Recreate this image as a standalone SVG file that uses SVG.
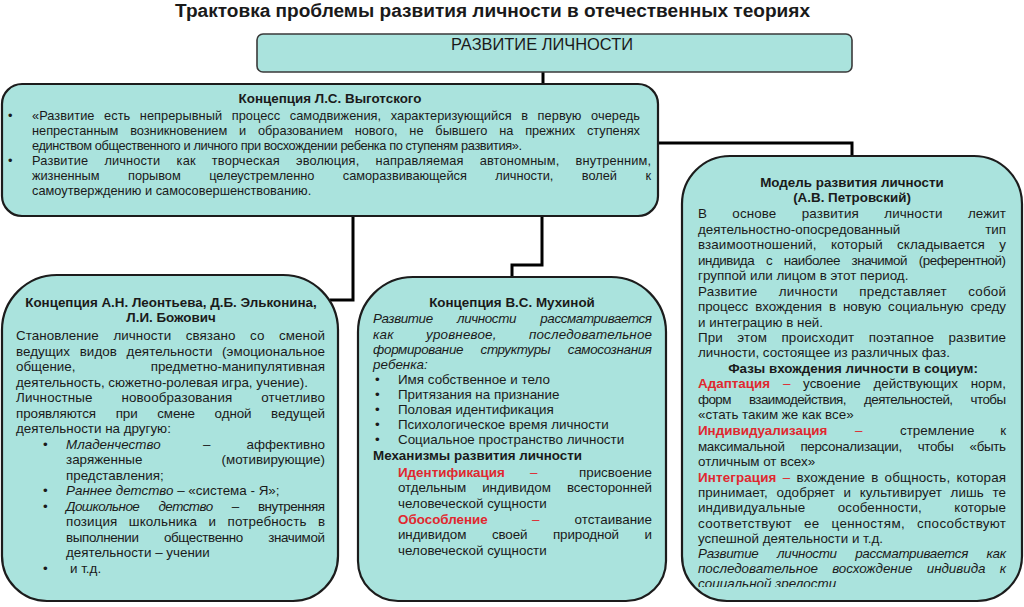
<svg xmlns="http://www.w3.org/2000/svg" width="1024" height="607" viewBox="0 0 1024 607">
<style>
.box{fill:#aae3dd;stroke:#1c1c1c;stroke-width:2.2}
.hbox{fill:#aae3dd;stroke:#3a3a3a;stroke-width:1.6}
.conn{stroke:#000;stroke-width:3;fill:none}
text{font-family:"Liberation Sans",Arial,sans-serif;fill:#1a1a1a}
.v{font-size:12.8px}
.s{font-size:13.4px}
.b{font-weight:bold}
.i{font-style:italic}
.r{fill:#e0282f;font-weight:bold}
.rd{fill:#e0282f}
.c{text-anchor:middle}
.e{text-anchor:end}
</style>
<defs>
<clipPath id="clipP"><rect x="682" y="150" width="342" height="437"/></clipPath>
</defs>
<rect width="1024" height="607" fill="#ffffff"/>
<g id="title">
<text x="175" y="17" font-size="18" font-weight="bold" textLength="635" lengthAdjust="spacingAndGlyphs">Трактовка проблемы развития личности в отечественных теориях</text>
</g>
<g id="connectors">
<path class="conn" d="M543 72 V86"/>
<path class="conn" d="M656 143 H852 V158"/>
<path class="conn" d="M353 214 V300 H330"/>
<path class="conn" d="M542 214 V265 H512 V279"/>
</g>
<g id="node-top">
<rect class="hbox" x="257" y="34" width="595" height="38" rx="6"/>
<text x="451" y="50" font-size="16" textLength="182" lengthAdjust="spacingAndGlyphs">РАЗВИТИЕ ЛИЧНОСТИ</text>
</g>
<g id="node-vygotsky">
<rect class="box" x="2" y="84" width="656" height="132" rx="20"/>
<text class="s b c" x="330" y="103" font-size="13.2">Концепция Л.С. Выготского</text>
<text class="v" x="8" y="119.5">•</text>
<text class="v" x="32" y="119.5" textLength="608" style="word-spacing:6px">«Развитие есть непрерывный процесс самодвижения, характеризующийся в первую очередь</text>
<text class="v" x="32" y="134.5" textLength="608" style="word-spacing:8.3px">непрестанным возникновением и образованием нового, не бывшего на прежних ступенях</text>
<text class="v" x="32" y="149.5" textLength="490">единством общественного и личного при восхождении ребенка по ступеням развития».</text>
<text class="v" x="8" y="164.5">•</text>
<text class="v" x="32" y="164.5" textLength="619" style="word-spacing:12.5px">Развитие личности как творческая эволюция, направляемая автономным, внутренним,</text>
<text class="v" x="32" y="179.5" textLength="619" style="word-spacing:25px">жизненным порывом целеустремленно саморазвивающейся личности, волей к</text>
<text class="v" x="32" y="194.5">самоутверждению и самосовершенствованию.</text>
</g>
<g id="node-leontiev">
<path class="box" d="M57 275 H283 A55 55 0 0 1 338 330 V556 A45 45 0 0 1 293 601 H47 A45 45 0 0 1 2 556 V330 A55 55 0 0 1 57 275 Z"/>
<text class="s b c" x="171" y="307">Концепция А.Н. Леонтьева, Д.Б. Эльконина,</text>
<text class="s b c" x="171" y="322">Л.И. Божович</text>
<text class="s" x="16" y="340" textLength="309" style="word-spacing:10.9px">Становление личности связано со сменой</text>
<text class="s" x="16" y="355.5" textLength="309" style="word-spacing:5.9px">ведущих видов деятельности (эмоциональное</text>
<text class="s" x="16" y="371">общение,</text>
<text class="s e" x="325" y="371">предметно-манипулятивная</text>
<text class="s" x="16" y="386.5">деятельность, сюжетно-ролевая игра, учение).</text>
<text class="s" x="16" y="402" textLength="309" style="word-spacing:25px">Личностные новообразования отчетливо</text>
<text class="s" x="16" y="417.5" textLength="309" style="word-spacing:16px">проявляются при смене одной ведущей</text>
<text class="s" x="16" y="433">деятельности на другую:</text>
<text class="s" x="43" y="448.5">•</text>
<text class="s i" x="66" y="448.5">Младенчество</text>
<text class="s" x="203" y="448.5">–</text>
<text class="s e" x="325" y="448.5">аффективно</text>
<text class="s" x="66" y="464">заряженные</text>
<text class="s e" x="325" y="464">(мотивирующие)</text>
<text class="s" x="66" y="479.5">представления;</text>
<text class="s" x="43" y="495">•</text>
<text class="s" x="66" y="495"><tspan class="i">Раннее детство</tspan> – «система - Я»;</text>
<text class="s" x="43" y="510.5">•</text>
<text class="s" x="66" y="510.5" textLength="259" style="word-spacing:16px"><tspan class="i">Дошкольное детство</tspan> – внутренняя</text>
<text class="s" x="66" y="526" textLength="259" style="word-spacing:7.5px">позиция школьника и потребность в</text>
<text class="s" x="66" y="541.5" textLength="259" style="word-spacing:22px">выполнении общественно значимой</text>
<text class="s" x="66" y="557">деятельности – учении</text>
<text class="s" x="43" y="572.5">•</text>
<text class="s" x="70" y="572.5">и т.д.</text>
</g>
<g id="node-mukhina">
<path class="box" d="M413 277 H611 A55 55 0 0 1 666 332 V561 A40 40 0 0 1 626 601 H398 A40 40 0 0 1 358 561 V332 A55 55 0 0 1 413 277 Z"/>
<text class="s b c" x="512" y="306.5">Концепция В.С. Мухиной</text>
<text class="s i" x="373" y="323" textLength="279" style="word-spacing:21px">Развитие личности рассматривается</text>
<text class="s i" x="373" y="338.5" textLength="279" style="word-spacing:28.5px">как уровневое, последовательное</text>
<text class="s i" x="373" y="354" textLength="279" style="word-spacing:14px">формирование структуры самосознания</text>
<text class="s i" x="373" y="369">ребенка:</text>
<text class="s" x="375" y="384">•</text>
<text class="s" x="398" y="384">Имя собственное и тело</text>
<text class="s" x="375" y="399">•</text>
<text class="s" x="398" y="399">Притязания на признание</text>
<text class="s" x="375" y="414">•</text>
<text class="s" x="398" y="414">Половая идентификация</text>
<text class="s" x="375" y="429">•</text>
<text class="s" x="398" y="429">Психологическое время личности</text>
<text class="s" x="375" y="444">•</text>
<text class="s" x="398" y="444">Социальное пространство личности</text>
<text class="s b" x="373" y="460">Механизмы развития личности</text>
<text class="s r" x="398" y="476.5">Идентификация</text>
<text class="s rd" x="530" y="476.5">–</text>
<text class="s e" x="652" y="476.5">присвоение</text>
<text class="s" x="398" y="492" textLength="254" style="word-spacing:12.5px">отдельным индивидом всесторонней</text>
<text class="s" x="398" y="508">человеческой сущности</text>
<text class="s r" x="398" y="523.5">Обособление</text>
<text class="s rd" x="532" y="523.5">–</text>
<text class="s e" x="652" y="523.5">отстаивание</text>
<text class="s" x="398" y="539" textLength="254" style="word-spacing:22px">индивидом своей природной и</text>
<text class="s" x="398" y="554.5">человеческой сущности</text>
</g>
<g id="node-petrovsky">
<path class="box" d="M730 156 H974 A48 48 0 0 1 1022 204 V556 A45 45 0 0 1 977 601 H727 A45 45 0 0 1 682 556 V204 A48 48 0 0 1 730 156 Z"/>
<text class="s b c" x="852" y="186.5">Модель развития личности</text>
<text class="s b c" x="852" y="201.5">(А.В. Петровский)</text>
<text class="s" x="698" y="218" textLength="308" style="word-spacing:21.5px">В основе развития личности лежит</text>
<text class="s" x="698" y="234">деятельностно-опосредованный</text>
<text class="s e" x="1006" y="234">тип</text>
<text class="s" x="698" y="249" textLength="308" style="word-spacing:10.5px">взаимоотношений, который складывается у</text>
<text class="s" x="698" y="265" textLength="308" style="word-spacing:8.5px">индивида с наиболее значимой (референтной)</text>
<text class="s" x="698" y="280">группой  или лицом в этот период.</text>
<text class="s" x="698" y="296" textLength="308" style="word-spacing:17.5px">Развитие личности представляет собой</text>
<text class="s" x="698" y="311" textLength="308" style="word-spacing:3.3px">процесс вхождения в новую социальную среду</text>
<text class="s" x="698" y="327">и интеграцию в ней.</text>
<text class="s" x="698" y="342" textLength="308" style="word-spacing:10.5px">При этом происходит поэтапное развитие</text>
<text class="s" x="698" y="357">личности, состоящее из различных фаз.</text>
<text class="s b c" x="853" y="373">Фазы вхождения личности в социум:</text>
<text class="s" x="698" y="388" textLength="308" style="word-spacing:9px"><tspan class="r">Адаптация</tspan> <tspan class="rd">–</tspan> усвоение действующих норм,</text>
<text class="s" x="698" y="404" textLength="308" style="word-spacing:15px">форм взаимодействия, деятельностей, чтобы</text>
<text class="s" x="698" y="419">«стать таким же как все»</text>
<text class="s r" x="698" y="435">Индивидуализация</text>
<text class="s rd" x="855" y="435">–</text>
<text class="s" x="900" y="435">стремление</text>
<text class="s e" x="1006" y="435">к</text>
<text class="s" x="698" y="451" textLength="308" style="word-spacing:12.5px">максимальной персонализации, чтобы «быть</text>
<text class="s" x="698" y="466">отличным от всех»</text>
<text class="s" x="698" y="482" textLength="308" style="word-spacing:2.3px"><tspan class="r">Интеграция</tspan> <tspan class="rd">–</tspan> вхождение в общность, которая</text>
<text class="s" x="698" y="497" textLength="308" style="word-spacing:4.8px">принимает, одобряет и культивирует лишь те</text>
<text class="s" x="698" y="512" textLength="308" style="word-spacing:28.5px">индивидуальные особенности, которые</text>
<text class="s" x="698" y="528" textLength="308" style="word-spacing:8px">соответствуют ее ценностям, способствуют</text>
<text class="s" x="698" y="543">успешной деятельности и т.д.</text>
<text class="s i" x="698" y="558" textLength="308" style="word-spacing:15px">Развитие личности рассматривается как</text>
<text class="s i" x="698" y="573" textLength="308" style="word-spacing:10.5px">последовательное восхождение индивида к</text>
<text class="s i" x="698" y="588" clip-path="url(#clipP)">социальной зрелости</text>
</g>
</svg>
